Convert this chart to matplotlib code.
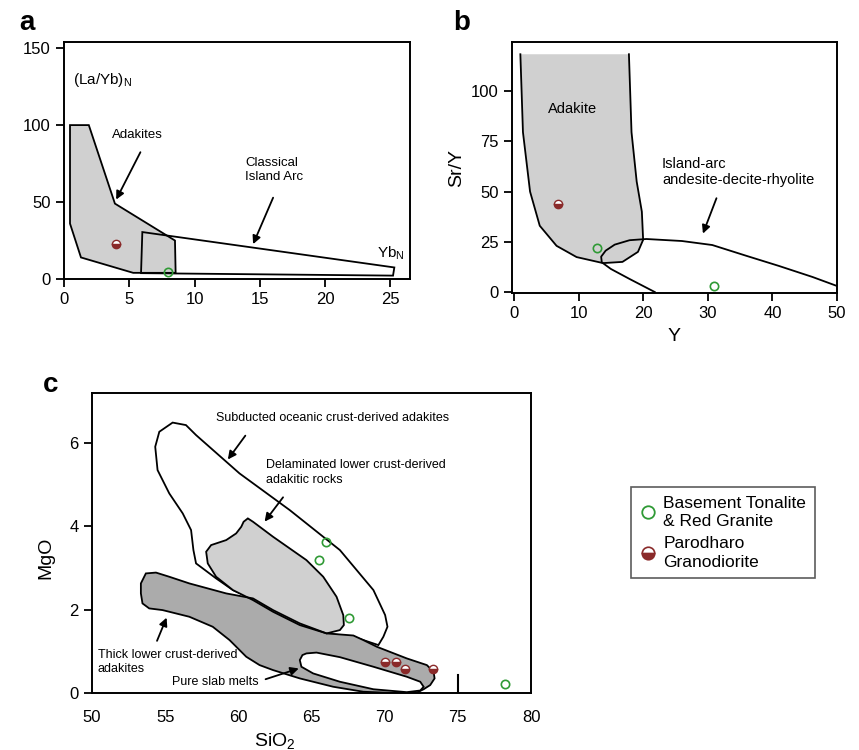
import matplotlib
matplotlib.use('Agg')
import matplotlib.pyplot as plt
from matplotlib.patches import Polygon
from matplotlib.lines import Line2D

plt.rcParams['font.family'] = ['Liberation Sans', 'DejaVu Sans']

# ---- data: panel a, (La/Yb)N vs YbN ----
a_adakite_x = [0.46, 1.9, 3.9, 8.5, 8.55, 5.3, 1.3, 0.46]
a_adakite_y = [100, 100, 49, 25, 4, 4, 14, 36]
a_arc_x = [6.0, 25.3, 25.2, 5.9]
a_arc_y = [30.5, 7.5, 2.2, 3.8]
a_red = ([4.0], [22.5])
a_green = ([8.0], [4.5])

# ---- data: panel b, Sr/Y vs Y ----
b_adakite_x = [1.0, 1.4, 2.5, 4.0, 6.6, 9.7, 13.8, 16.8, 19.2, 20.0, 19.8, 19.0, 18.2, 17.8]
b_adakite_y = [118.4, 79.6, 50, 33, 23, 17.4, 14.4, 15, 20, 26, 40, 55, 79.6, 118.4]
b_arc_x = [21.8, 17.9, 15.0, 13.6, 13.5, 14.2, 15.6, 17.9, 20.5, 26.0, 30.7, 36.0, 41.0, 46.2, 50.0]
b_arc_y = [0, 6.5, 11.5, 14.8, 17.6, 20.6, 23.6, 25.8, 26.4, 25.4, 23.4, 18, 13, 7.5, 3]
b_red = ([6.8], [43.8])
b_green = ([12.8, 30.9], [21.9, 3.0])

# ---- data: panel c, MgO vs SiO2 ----
c_sub_x = [55.51, 56.42, 57.11, 60.08, 63.51, 66.94, 69.23, 70.03, 70.19, 69.91, 69.57,
           67.86, 66.03, 62.37, 61.0, 59.63, 58.48, 57.57, 57.11, 56.93, 56.77, 56.2,
           55.28, 54.48, 54.32, 54.6]
c_sub_y = [6.49, 6.43, 6.19, 5.27, 4.39, 3.43, 2.47, 1.87, 1.59, 1.35, 1.15,
           1.35, 1.43, 1.98, 2.26, 2.47, 2.75, 2.99, 3.11, 3.43, 3.91, 4.31,
           4.79, 5.35, 5.91, 6.27]
c_del_x = [60.65, 61.0, 62.37, 64.65, 65.8, 66.71, 67.17, 67.21, 66.94, 66.03, 64.2,
           62.37, 61.0, 59.63, 58.48, 57.91, 57.8, 58.14, 59.17, 59.85, 60.2, 60.36]
c_del_y = [4.19, 4.11, 3.75, 3.19, 2.79, 2.31, 1.87, 1.63, 1.51, 1.43, 1.63,
           1.95, 2.23, 2.47, 2.79, 3.11, 3.39, 3.55, 3.67, 3.83, 3.99, 4.11]
c_thick_x = [53.68, 54.37, 55.28, 56.65, 59.17, 61.0, 62.37, 64.2, 66.03, 67.86, 68.54,
             69.46, 71.51, 72.88, 73.34, 73.41, 73.11, 72.66, 72.2, 70.6, 68.54, 66.48,
             64.2, 62.37, 61.45, 60.54, 59.4, 58.25, 56.65, 54.82, 53.91, 53.45, 53.34, 53.34]
c_thick_y = [2.87, 2.89, 2.79, 2.63, 2.39, 2.27, 1.99, 1.67, 1.43, 1.38, 1.27,
             1.11, 0.83, 0.67, 0.51, 0.35, 0.19, 0.09, 0.01, 0.0, 0.03, 0.15,
             0.35, 0.55, 0.67, 0.87, 1.27, 1.59, 1.83, 1.99, 2.03, 2.15, 2.39, 2.63]
c_slab_x = [64.65, 65.34, 66.94, 69.23, 71.51, 72.43, 72.66, 72.43, 71.51, 69.23,
            66.94, 65.11, 64.31, 64.2, 64.38]
c_slab_y = [0.95, 0.97, 0.86, 0.63, 0.39, 0.27, 0.15, 0.06, 0.02, 0.09,
            0.27, 0.47, 0.63, 0.79, 0.91]
c_green = ([65.96, 65.52, 67.56, 78.21], [3.62, 3.19, 1.81, 0.21])
c_red = ([70.05, 70.78, 71.4, 73.27], [0.75, 0.75, 0.58, 0.57])

GREEN = '#2f9a35'
RED = '#8a2a2a'
LIGHT = '#d0d0d0'
DARK = '#ababab'


def region(ax, xs, ys, face, z):
    ax.add_patch(Polygon(list(zip(xs, ys)), closed=True, facecolor=face,
                         edgecolor='black', linewidth=1.3, zorder=z))


def fill_only(ax, xs, ys, face, z):
    ax.add_patch(Polygon(list(zip(xs, ys)), closed=True, facecolor=face,
                         edgecolor='none', zorder=z))


def outline(ax, xs, ys, z):
    ax.add_patch(Polygon(list(zip(xs, ys)), closed=True, facecolor='none',
                         edgecolor='black', linewidth=1.3, zorder=z))


def markers(ax, green, red):
    ax.plot(*green, 'o', ms=6, mfc='none', mec=GREEN, mew=1.2, zorder=6)
    ax.plot(*red, 'o', ms=6, fillstyle='bottom', mfc=RED, mfcalt='white',
            mec=RED, mew=1.0, zorder=6)


def arrow(ax, start, end):
    ax.annotate('', xy=end, xytext=start,
                arrowprops=dict(arrowstyle='-|>', color='black', lw=1.3,
                                mutation_scale=12), zorder=7)


def style(ax):
    for s in ax.spines.values():
        s.set_linewidth(1.4)
    ax.tick_params(labelsize=12, width=1.3, length=6, direction='out')


fig = plt.figure(figsize=(8.59, 7.5), dpi=100)

# ---------------- panel a ----------------
ax_a = fig.add_axes([0.0745, 0.628, 0.4028, 0.316])
fill_only(ax_a, a_arc_x, a_arc_y, 'white', 1)
fill_only(ax_a, a_adakite_x, a_adakite_y, LIGHT, 2)
outline(ax_a, a_arc_x, a_arc_y, 3)
outline(ax_a, a_adakite_x, a_adakite_y, 3)
markers(ax_a, a_green, a_red)
ax_a.set_xlim(0, 26.5)
ax_a.set_ylim(0, 154)
ax_a.set_xticks([0, 5, 10, 15, 20, 25])
ax_a.set_yticks([0, 50, 100, 150])
style(ax_a)
ax_a.text(0.7, 129, r'(La/Yb)$_\mathregular{N}$', fontsize=11, va='center')
ax_a.text(24.0, 17, r'Yb$_\mathregular{N}$', fontsize=11, va='center')
ax_a.text(5.6, 93.5, 'Adakites', fontsize=9.5, ha='center', va='center')
ax_a.text(13.9, 71, 'Classical\nIsland Arc', fontsize=9.5, ha='left', va='center',
          linespacing=1.2)
arrow(ax_a, (5.95, 84), (3.9, 50))
arrow(ax_a, (16.1, 54.5), (14.4, 21))
fig.text(0.022, 0.97, 'a', fontsize=20, fontweight='bold', va='center')

# ---------------- panel b ----------------
ax_b = fig.add_axes([0.596, 0.6093, 0.3784, 0.3347])
fill_only(ax_b, b_adakite_x, b_adakite_y, LIGHT, 1)
ax_b.plot(b_adakite_x, b_adakite_y, color='black', lw=1.3, zorder=3)
ax_b.plot(b_arc_x, b_arc_y, color='black', lw=1.3, zorder=3)
markers(ax_b, b_green, b_red)
ax_b.set_xlim(-0.3, 50)
ax_b.set_ylim(-0.5, 124.5)
ax_b.set_xticks([0, 10, 20, 30, 40, 50])
ax_b.set_yticks([0, 25, 50, 75, 100])
style(ax_b)
ax_b.set_xlabel('Y', fontsize=14, labelpad=5)
ax_b.set_ylabel('Sr/Y', fontsize=14, labelpad=4)
ax_b.text(9.1, 91, 'Adakite', fontsize=10.5, ha='center', va='center')
ax_b.text(22.9, 59.7, 'Island-arc\nandesite-decite-rhyolite', fontsize=10.5,
          ha='left', va='center', linespacing=1.2)
arrow(ax_b, (31.5, 48), (29.1, 27.8))
fig.text(0.528, 0.97, 'b', fontsize=20, fontweight='bold', va='center')

# ---------------- panel c ----------------
ax_c = fig.add_axes([0.1071, 0.076, 0.5111, 0.4])
region(ax_c, c_sub_x, c_sub_y, 'white', 1)
fill_only(ax_c, c_thick_x, c_thick_y, DARK, 2)
fill_only(ax_c, c_del_x, c_del_y, LIGHT, 2.1)
outline(ax_c, c_thick_x, c_thick_y, 3)
outline(ax_c, c_del_x, c_del_y, 3)
region(ax_c, c_slab_x, c_slab_y, 'white', 4)
markers(ax_c, c_green, c_red)
ax_c.axvline(75, ymin=0, ymax=0.06, color='black', lw=1.5, zorder=5)
ax_c.set_xlim(50, 80)
ax_c.set_ylim(0, 7.2)
ax_c.set_xticks([50, 55, 60, 65, 70, 75, 80])
ax_c.set_yticks([0, 2, 4, 6])
style(ax_c)
ax_c.tick_params(axis='x', length=0, pad=12)
ax_c.set_xlabel(r'SiO$_\mathregular{2}$', fontsize=14)
ax_c.xaxis.set_label_coords(0.417, -0.128)
ax_c.set_ylabel('MgO', fontsize=14)
ax_c.yaxis.set_label_coords(-0.085, 0.45)
ax_c.text(58.44, 6.59, 'Subducted oceanic crust-derived adakites', fontsize=9,
          ha='left', va='center')
ax_c.text(61.87, 5.29, 'Delaminated lower crust-derived\nadakitic rocks', fontsize=9,
          ha='left', va='center', linespacing=1.25)
ax_c.text(50.41, 0.74, 'Thick lower crust-derived\nadakites', fontsize=9,
          ha='left', va='center', linespacing=1.25)
ax_c.text(55.46, 0.26, 'Pure slab melts', fontsize=9, ha='left', va='center')
arrow(ax_c, (60.59, 6.23), (59.17, 5.55))
arrow(ax_c, (63.17, 4.75), (61.68, 4.06))
arrow(ax_c, (54.37, 1.19), (55.17, 1.87))
arrow(ax_c, (61.68, 0.31), (64.31, 0.61))
fig.text(0.05, 0.487, 'c', fontsize=20, fontweight='bold', va='center')

# legend
handles = [
    Line2D([], [], ls='none', marker='o', ms=9, mfc='none', mec=GREEN, mew=1.3),
    Line2D([], [], ls='none', marker='o', ms=9, fillstyle='bottom', mfc=RED,
           mfcalt='white', mec=RED, mew=1.2),
]
leg = fig.legend(handles, ['Basement Tonalite\n& Red Granite', 'Parodharo\nGranodiorite'],
                 loc='upper left', bbox_to_anchor=(0.7346, 0.3507), borderaxespad=0,
                 fontsize=12.5, frameon=True, fancybox=False, edgecolor='#333333',
                 handletextpad=0.45, handlelength=0.9, borderpad=0.5, labelspacing=0.4)
leg.get_frame().set_linewidth(1.2)
for t in leg.get_texts():
    t.set_linespacing(1.3)

fig.savefig('out.png', dpi=100)
plt.close(fig)
